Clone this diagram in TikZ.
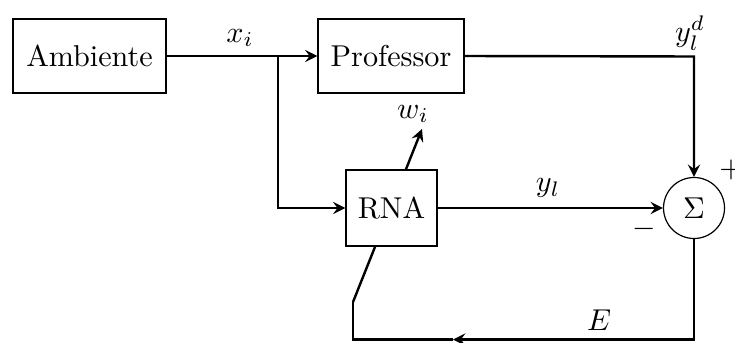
\documentclass[tikz,border=0pt]{standalone}
\usetikzlibrary{arrows}
\begin{document}
\begin{tikzpicture}[x=0.01166cm, y=-0.01166cm,
  block/.style={draw, thin, fill=white, inner sep=0pt},
  sumnode/.style={draw, thin, circle, fill=white, inner sep=0pt, minimum size=0.711cm},
  wire/.style={line width=0.8pt},
  sig/.style={wire, -stealth}]
  \useasboundingbox (0,0) rectangle (735,342);

  % helper points for the feedback loop and the adaptation arrow
  \coordinate (split) at (278,56.5);
  \coordinate (cornerP) at (694,56.5);
  \coordinate (cornerE) at (694,339.5);
  \coordinate (midE) at (453,339.5);
  \coordinate (cornerL) at (353,339.5);
  \coordinate (adjfoot) at (353,302);
  \coordinate (adjtip) at (422,129);

  % adaptation arrow crossing the network block (block is drawn on top)
  \draw[sig] (adjfoot) -- (adjtip);

  % blocks
  \node[block, minimum width=1.784cm, minimum height=0.863cm] (amb) at (89.5,56) {Ambiente};
  \node[block, minimum width=1.702cm, minimum height=0.863cm] (prof) at (391,56) {Professor};
  \node[block, minimum width=1.061cm, minimum height=0.886cm] (rna) at (391.5,208) {RNA};
  \node[sumnode] (sum) at (694,208) {$\Sigma$};

  % signal paths
  \draw[sig] (amb.east) -- (prof.west);
  \draw[sig] (split) |- (rna.west);
  \draw[sig] (prof.east) -- (cornerP) -- (sum.north);
  \draw[sig] (rna.east) -- (sum.west);
  \draw[sig] (sum.south) -- (cornerE) -- (midE);
  \draw[wire] (midE) -- (cornerL) -- (adjfoot);

  % labels
  \node at (240,38) {$x_i$};
  \node at (690,33) {$y_l^d$};
  \node at (413,114) {$w_i$};
  \node at (548,188) {$y_l$};
  \node at (599,320) {$E$};
  \node at (644.5,229) {$-$};
  \node at (731,170) {$+$};
\end{tikzpicture}
\end{document}
